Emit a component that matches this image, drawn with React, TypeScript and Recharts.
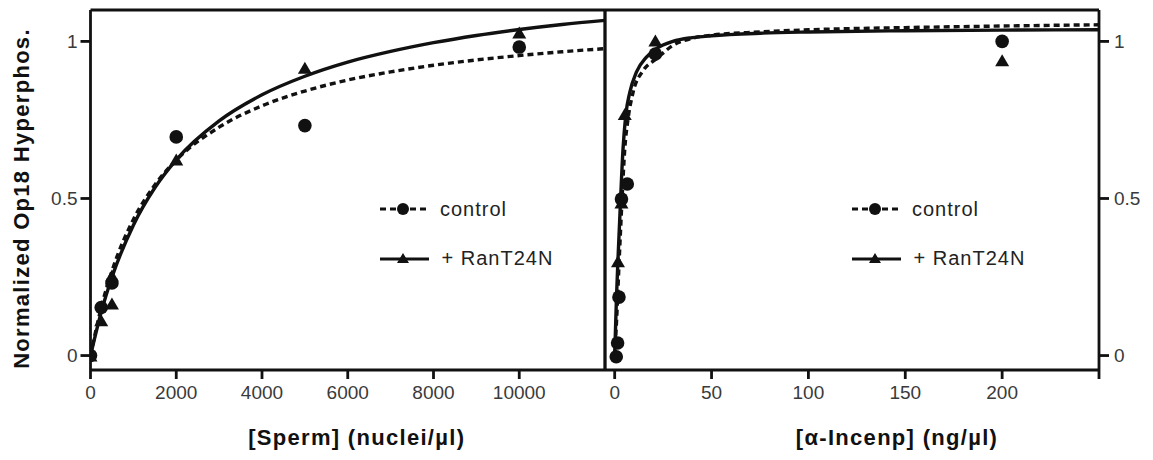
import React from 'react';
import { ComposedChart, Line, Scatter, XAxis, YAxis, ReferenceLine, Legend } from 'recharts';

const FONT = '"Liberation Sans", Arial, Helvetica, sans-serif';
const INK = '#111';
const TICK_INK = '#3a3a3a';

// shared y axis
const yDomain = [-0.046, 1.1];
const yTicks = [0, 0.5, 1];

// left panel: [Sperm] (nuclei/µl)
const spermDomain = [0, 12000];
const spermTicks = [0, 2000, 4000, 6000, 8000, 10000];
const spermControlPoints = [
  { x: 0, y: 0 }, { x: 250, y: 0.153 }, { x: 500, y: 0.231 },
  { x: 2000, y: 0.696 }, { x: 5000, y: 0.732 }, { x: 10000, y: 0.982 },
];
const spermRanPoints = [
  { x: 0, y: 0 }, { x: 250, y: 0.112 }, { x: 500, y: 0.166 }, { x: 500, y: 0.255 },
  { x: 2000, y: 0.624 }, { x: 5000, y: 0.916 }, { x: 10000, y: 1.028 },
];
const spermControlFit = [
  { x: 0, y: 0 }, { x: 250, y: 0.153 }, { x: 500, y: 0.269 }, { x: 1000, y: 0.433 },
  { x: 1500, y: 0.543 }, { x: 2000, y: 0.622 }, { x: 3000, y: 0.727 }, { x: 4000, y: 0.795 },
  { x: 5000, y: 0.842 }, { x: 6000, y: 0.877 }, { x: 7000, y: 0.903 }, { x: 8000, y: 0.924 },
  { x: 9000, y: 0.941 }, { x: 10000, y: 0.955 }, { x: 11000, y: 0.967 }, { x: 12000, y: 0.977 },
];
const spermRanFit = [
  { x: 0, y: 0 }, { x: 250, y: 0.138 }, { x: 500, y: 0.249 }, { x: 1000, y: 0.415 },
  { x: 1500, y: 0.534 }, { x: 2000, y: 0.623 }, { x: 3000, y: 0.747 }, { x: 4000, y: 0.83 },
  { x: 5000, y: 0.889 }, { x: 6000, y: 0.934 }, { x: 7000, y: 0.968 }, { x: 8000, y: 0.996 },
  { x: 9000, y: 1.019 }, { x: 10000, y: 1.038 }, { x: 11000, y: 1.054 }, { x: 12000, y: 1.067 },
];

// right panel: [α-Incenp] (ng/µl)
const incenpDomain = [-5, 250];
const incenpTicks = [0, 50, 100, 150, 200, 250];
const incenpControlPoints = [
  { x: 0.8, y: -0.004 }, { x: 1.5, y: 0.04 }, { x: 2.2, y: 0.186 }, { x: 3.5, y: 0.498 },
  { x: 6.5, y: 0.546 }, { x: 21, y: 0.96 }, { x: 200, y: 1.0 },
];
const incenpRanPoints = [
  { x: 1.7, y: 0.3 }, { x: 3.5, y: 0.487 }, { x: 5.2, y: 0.769 }, { x: 21, y: 1.003 }, { x: 200, y: 0.94 },
];
const incenpControlFit = [
  { x: 0, y: 0 }, { x: 1.2, y: 0.14 }, { x: 2.2, y: 0.285 }, { x: 3.8, y: 0.498 }, { x: 5.2, y: 0.657 },
  { x: 6.9, y: 0.753 }, { x: 9.5, y: 0.838 }, { x: 14.7, y: 0.907 }, { x: 21.6, y: 0.945 },
  { x: 30, y: 0.987 }, { x: 40, y: 1.01 }, { x: 50, y: 1.02 }, { x: 75, y: 1.03 }, { x: 100, y: 1.037 },
  { x: 150, y: 1.044 }, { x: 200, y: 1.049 }, { x: 250, y: 1.053 },
];
const incenpRanFit = [
  { x: 0, y: 0 }, { x: 0.9, y: 0.18 }, { x: 1.7, y: 0.306 }, { x: 2.9, y: 0.477 }, { x: 4.3, y: 0.657 },
  { x: 5.7, y: 0.764 }, { x: 7.8, y: 0.838 }, { x: 11.2, y: 0.902 }, { x: 16.4, y: 0.95 },
  { x: 21.6, y: 0.977 }, { x: 30, y: 1.0 }, { x: 40, y: 1.012 }, { x: 50, y: 1.018 }, { x: 75, y: 1.026 },
  { x: 100, y: 1.03 }, { x: 150, y: 1.034 }, { x: 200, y: 1.036 }, { x: 250, y: 1.037 },
];

const seriesNames = ['control', '+ RanT24N'];

const DotShape = (props: any) => <circle cx={props.cx} cy={props.cy} r={6.8} fill={INK} />;
const TriShape = (props: any) => {
  const { cx, cy } = props;
  const w = 14, h = 12;
  return <path d={`M${cx},${cy - h / 2}L${cx + w / 2},${cy + h / 2}L${cx - w / 2},${cy + h / 2}Z`} fill={INK} />;
};

const LegendBox = () => (
  <svg width={200} height={80} style={{ display: 'block', overflow: 'visible' }}>
    <line x1={5} y1={19} x2={54} y2={19} stroke={INK} strokeWidth={2.8} strokeDasharray="6 4" />
    <circle cx={28} cy={19} r={6} fill={INK} />
    <text x={65} y={26} fontSize={20} letterSpacing={1} fill="#222" fontFamily={FONT}>{seriesNames[0]}</text>
    <line x1={5} y1={69} x2={54} y2={69} stroke={INK} strokeWidth={2.8} />
    <path d="M28,63L34,73L22,73Z" fill={INK} />
    <text x={66.5} y={75} fontSize={20} letterSpacing={1} fill="#222" fontFamily={FONT}>{seriesNames[1]}</text>
  </svg>
);

const axisLine = { stroke: INK, strokeWidth: 2.8 };
const tickStyle = { fill: TICK_INK, fontSize: 19, fontFamily: FONT };
const titleStyle = { fill: INK, fontSize: 22, fontWeight: 'bold', fontFamily: FONT, letterSpacing: 1.3 };

export default function App() {
  return (
    <div style={{ position: 'absolute', left: 0, top: 0, width: 1153, height: 460, background: '#fff', fontFamily: FONT }}>
      <div style={{ position: 'absolute', left: 0, top: 0 }}>
        <ComposedChart width={620} height={460} margin={{ top: 10, right: 15, bottom: 0, left: 0 }}>
          <XAxis
            type="number" dataKey="x" domain={spermDomain} ticks={spermTicks} allowDataOverflow
            height={90} tickSize={9} tickMargin={7} axisLine={axisLine} tickLine={axisLine} tick={tickStyle}
            label={{ value: '[Sperm] (nuclei/µl)', position: 'insideBottom', offset: 15.5, dx: 9, ...titleStyle }}
          />
          <YAxis
            type="number" dataKey="y" domain={yDomain} ticks={yTicks} allowDataOverflow
            width={90.5} tickSize={10} tickMargin={3} axisLine={axisLine} tickLine={axisLine} tick={tickStyle}
            tickFormatter={(v: number) => String(v)}
            label={{ value: 'Normalized Op18 Hyperphos.', angle: -90, position: 'center', dx: -24, dy: 8.5, ...titleStyle }}
          />
          <ReferenceLine y={1.1} stroke={INK} strokeWidth={2.8} />
          <ReferenceLine x={12000} stroke={INK} strokeWidth={2.8} />
          <Line data={spermControlFit} dataKey="y" type="monotone" stroke={INK} strokeWidth={3.4} strokeDasharray="6 4" dot={false} isAnimationActive={false} />
          <Line data={spermRanFit} dataKey="y" type="monotone" stroke={INK} strokeWidth={3.4} dot={false} isAnimationActive={false} />
          <Scatter data={spermControlPoints} dataKey="y" shape={DotShape} isAnimationActive={false} />
          <Scatter data={spermRanPoints} dataKey="y" shape={TriShape} isAnimationActive={false} />
          <Legend layout="vertical" align="center" verticalAlign="middle"
            wrapperStyle={{ left: 375, top: 190, width: 200, height: 80 }} content={() => <LegendBox />} />
        </ComposedChart>
      </div>
      <div style={{ position: 'absolute', left: 560, top: 0 }}>
        <ComposedChart width={593} height={460} margin={{ top: 10, right: 0, bottom: 0, left: 45 }}>
          <XAxis
            type="number" dataKey="x" domain={incenpDomain} ticks={incenpTicks} allowDataOverflow
            height={90} tickSize={9} tickMargin={7} axisLine={axisLine} tickLine={axisLine} tick={tickStyle}
            tickFormatter={(v: number) => (v === 250 ? '' : String(v))}
            label={{ value: '[α-Incenp] (ng/µl)', position: 'insideBottom', offset: 15.5, dx: 45, ...titleStyle }}
          />
          <YAxis
            orientation="right" type="number" dataKey="y" domain={yDomain} ticks={yTicks} allowDataOverflow
            width={54} tickSize={10} tickMargin={5} axisLine={axisLine} tickLine={axisLine} tick={tickStyle}
            tickFormatter={(v: number) => String(v)}
          />
          <ReferenceLine y={1.1} stroke={INK} strokeWidth={2.8} />
          <ReferenceLine x={-5} stroke={INK} strokeWidth={2.8} />
          <Line data={incenpControlFit} dataKey="y" type="monotone" stroke={INK} strokeWidth={3.4} strokeDasharray="6 4" dot={false} isAnimationActive={false} />
          <Line data={incenpRanFit} dataKey="y" type="monotone" stroke={INK} strokeWidth={3.4} dot={false} isAnimationActive={false} />
          <Scatter data={incenpControlPoints} dataKey="y" shape={DotShape} isAnimationActive={false} />
          <Scatter data={incenpRanPoints} dataKey="y" shape={TriShape} isAnimationActive={false} />
          <Legend layout="vertical" align="center" verticalAlign="middle"
            wrapperStyle={{ left: 287, top: 190, width: 200, height: 80 }} content={() => <LegendBox />} />
        </ComposedChart>
      </div>
    </div>
  );
}
